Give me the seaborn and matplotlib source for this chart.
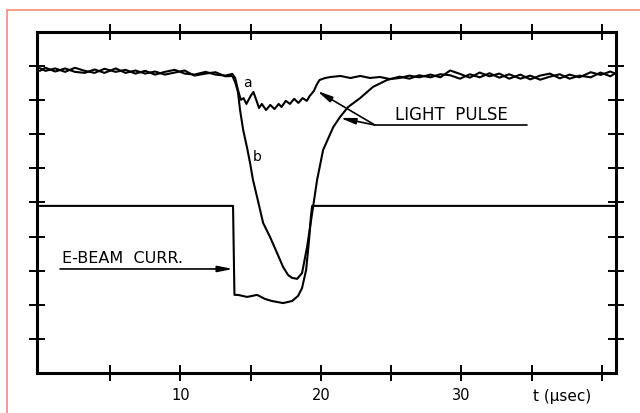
import numpy as np
import pandas as pd
import matplotlib.pyplot as plt
import seaborn as sns
from matplotlib.lines import Line2D

# time in microseconds, signals in screen divisions (0..10)
t_a = [0.0, 0.4, 1.1, 1.8, 2.5, 3.2, 3.9, 4.6, 5.4, 6.1, 6.8, 7.5, 8.2, 8.9, 9.6, 10.3,
       11.0, 11.8, 12.5, 13.2, 13.7,
       13.9, 14.1, 14.3, 14.5, 14.7, 15.0, 15.2, 15.4, 15.6, 15.8, 16.1, 16.4, 16.7, 17.0,
       17.2, 17.5, 17.8, 18.1, 18.4, 18.7, 19.0, 19.2, 19.5, 19.7,
       19.9, 20.3, 20.7, 21.4, 22.1, 22.8, 23.5, 24.2, 24.9,
       25.6, 26.3, 27.0, 27.8, 28.5, 29.2, 29.9, 30.6, 31.3, 32.0, 32.7, 33.4, 34.2,
       34.9, 35.6, 36.3, 37.0, 37.7, 38.4, 39.2, 39.9, 40.6, 41.0]
light_a = [8.94, 8.86, 8.93, 8.83, 8.95, 8.86, 8.80, 8.92, 8.83, 8.89, 8.78, 8.86, 8.75, 8.83,
           8.89, 8.78, 8.75, 8.83, 8.75, 8.72, 8.77,
           8.65, 8.30, 8.01, 8.06, 7.89, 8.12, 8.24, 8.01, 7.77, 7.89, 7.71, 7.86, 7.74, 7.89,
           7.80, 7.98, 7.89, 8.04, 7.92, 8.06, 7.98, 8.12, 8.27, 8.45,
           8.59, 8.65, 8.68, 8.71, 8.65, 8.71, 8.65, 8.68, 8.62,
           8.65, 8.72, 8.67, 8.75, 8.67, 8.87, 8.77, 8.66, 8.81, 8.70, 8.78, 8.63, 8.75,
           8.61, 8.72, 8.78, 8.64, 8.75, 8.67, 8.82, 8.74, 8.84, 8.77]

t_b = [0.0, 0.4, 1.1, 1.8, 2.5, 3.2, 3.9, 4.6, 5.4, 6.1, 6.8, 7.5, 8.2, 8.9, 9.6, 10.3,
       11.0, 11.8, 12.5, 13.2, 13.7,
       13.9, 14.1, 14.25, 14.47, 14.75, 14.96, 15.17, 15.46, 15.89, 16.38, 16.88, 17.31,
       17.67, 17.95, 18.31, 18.66, 19.02, 19.38, 19.73, 20.16, 20.88, 21.37, 21.94, 22.79,
       23.71, 24.7,
       25.6, 26.3, 27.0, 27.8, 28.5, 29.2, 29.9, 30.6, 31.3, 32.0, 32.7, 33.4, 34.2,
       34.9, 35.6, 36.3, 37.0, 37.7, 38.4, 39.2, 39.9, 40.6, 41.0]
light_b = [8.86, 8.95, 8.84, 8.93, 8.83, 8.80, 8.90, 8.80, 8.93, 8.80, 8.87, 8.78, 8.84, 8.75,
           8.81, 8.87, 8.72, 8.78, 8.82, 8.70, 8.71,
           8.53, 8.24, 7.71, 7.13, 6.60, 6.16, 5.66, 5.16, 4.40, 3.99, 3.52, 3.11,
           2.87, 2.79, 2.76, 2.93, 3.70, 4.69, 5.66, 6.54, 7.21, 7.51, 7.80, 8.06,
           8.39, 8.59,
           8.69, 8.63, 8.73, 8.67, 8.76, 8.73, 8.63, 8.76, 8.67, 8.79, 8.66, 8.76, 8.63,
           8.72, 8.60, 8.69, 8.76, 8.63, 8.72, 8.67, 8.81, 8.70, 8.80]

t_beam = [0.0, 13.75, 13.85, 14.1, 14.75, 15.46, 16.03, 16.52, 17.31, 17.95, 18.38,
          18.66, 18.95, 19.16, 19.3, 19.38, 41.0]
beam = [4.90, 4.90, 2.29, 2.29, 2.23, 2.29, 2.17, 2.11, 2.05, 2.11, 2.26,
        2.49, 3.02, 3.90, 4.63, 4.90, 4.90]

x_ticks = [5, 10, 15, 20, 25, 30, 35, 40]
x_tick_labels = ['', '10', '', '20', '', '30', '', '']
y_ticks = [1, 2, 3, 4, 5, 6, 7, 8, 9]

sns.set_style("ticks", {"axes.edgecolor": "black", "xtick.color": "black",
                        "ytick.color": "black", "text.color": "black"})
plt.rcParams['font.family'] = ['DejaVu Sans']

fig = plt.figure(figsize=(6.4, 4.13), dpi=100)
ax = fig.add_axes([0.0578, 0.0969, 0.9047, 0.8257])

for tt, yy in [(t_a, light_a), (t_b, light_b), (t_beam, beam)]:
    sns.lineplot(x=tt, y=yy, ax=ax, color='black', lw=1.5, sort=False, estimator=None)

ax.set_xlim(-0.2, 41.0)
ax.set_ylim(0, 10)
ax.set_xticks(x_ticks)
ax.set_xticklabels(x_tick_labels)
ax.set_yticks(y_ticks)
ax.set_yticklabels([])
ax.tick_params(direction='inout', length=11, width=1.4, top=True, right=True,
               labelsize=10.5, pad=5)
for s in ax.spines.values():
    s.set_linewidth(2.2)
    s.set_color('black')
ax.set_xlabel('')
ax.set_ylabel('')

# curve labels
ax.text(14.8, 8.5, 'a', fontsize=10, ha='center', va='center')
ax.text(15.5, 6.33, 'b', fontsize=10, ha='center', va='center')

# light pulse callout
arrow = dict(arrowstyle='-|>,head_length=0.9,head_width=0.18', color='black', lw=1.2,
             shrinkA=0, shrinkB=0)
ax.text(29.3, 7.57, 'LIGHT  PULSE', fontsize=12, ha='center', va='center')
ax.plot([23.85, 34.68], [7.27, 7.27], color='black', lw=1.2)
ax.annotate('', xy=(19.73, 8.27), xytext=(23.85, 7.27), arrowprops=arrow)
ax.annotate('', xy=(21.37, 7.48), xytext=(23.85, 7.27), arrowprops=arrow)

# e-beam callout
ax.text(1.58, 3.37, 'E-BEAM  CURR.', fontsize=11.5, ha='left', va='center')
ax.annotate('', xy=(13.75, 3.05), xytext=(1.44, 3.05), arrowprops=arrow)

ax.text(37.2, -0.68, 't (μsec)', fontsize=11, ha='center', va='center')

# pink page border
fig.add_artist(Line2D([0.0117, 0.0117], [0, 0.976], transform=fig.transFigure,
                      color='#F28B7A', lw=1.2))
fig.add_artist(Line2D([0.0117, 1.0], [0.976, 0.976], transform=fig.transFigure,
                      color='#F28B7A', lw=1.2))

fig.savefig('out.png', dpi=100)
